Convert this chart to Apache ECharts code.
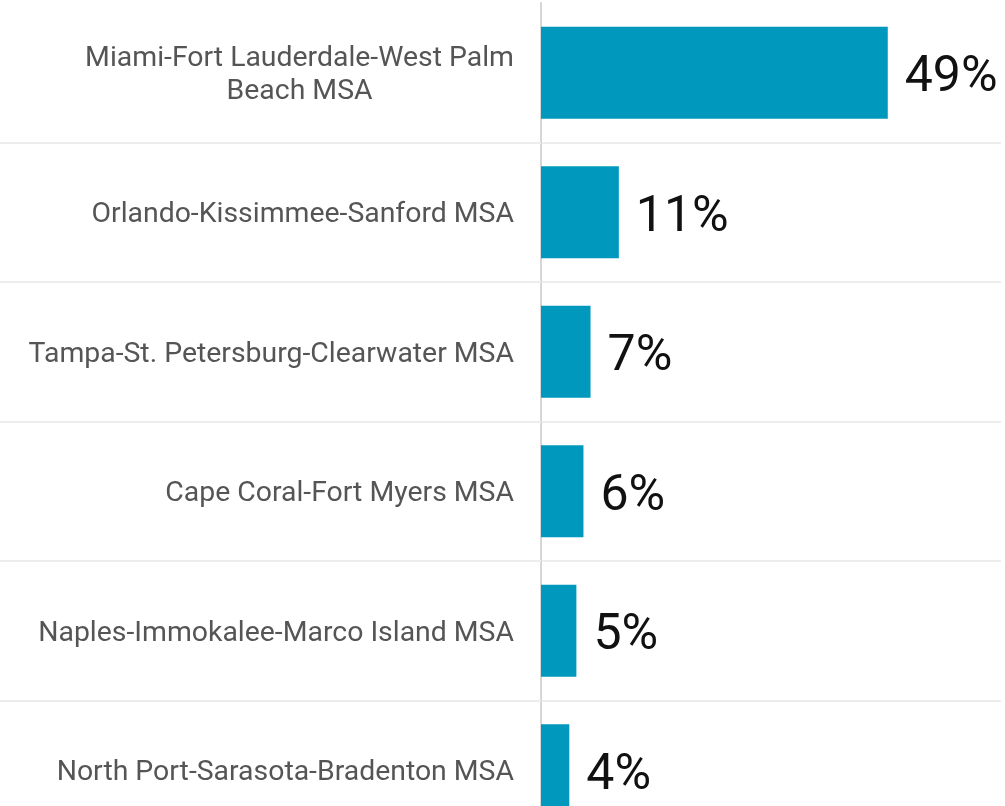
<!DOCTYPE html>
<html>
<head>
<meta charset="utf-8">
<script src="https://cdn.jsdelivr.net/npm/echarts@6/dist/echarts.min.js"></script>
<style>
html,body{margin:0;padding:0;background:#fff;}
#chart{width:1005px;height:806px;}
</style>
</head>
<body>
<div id="chart"></div>
<script>
const categories = [
  'Miami-Fort Lauderdale-West Palm\nBeach MSA',
  'Orlando-Kissimmee-Sanford MSA',
  'Tampa-St. Petersburg-Clearwater MSA',
  'Cape Coral-Fort Myers MSA',
  'Naples-Immokalee-Marco Island MSA',
  'North Port-Sarasota-Bradenton MSA'
];
const shares = [49, 11, 7, 6, 5, 4];

const chart = echarts.init(document.getElementById('chart'), null, {renderer: 'canvas'});
chart.setOption({
  animation: false,
  backgroundColor: '#ffffff',
  grid: {left: 541, top: 3, right: 4, bottom: -34, outerBoundsMode: 'none', containLabel: false},
  xAxis: {
    type: 'value', min: 0, max: 65,
    axisLine: {show: false}, axisTick: {show: false},
    axisLabel: {show: false}, splitLine: {show: false}
  },
  yAxis: {
    type: 'category', inverse: true, data: categories,
    axisLine: {show: true, lineStyle: {color: '#d6d6d6', width: 2}},
    axisTick: {show: true, length: 541, interval: function (i) { return i !== 0; }, lineStyle: {color: '#ededed', width: 2}},
    splitLine: {show: true, interval: function (i) { return i !== 0; }, lineStyle: {color: '#ededed', width: 2}},
    axisLabel: {
      margin: 27,
      fontFamily: 'Roboto',
      fontSize: 28.4,
      color: '#555555',
      formatter: function (v) { return '{c|' + v + '}'; },
      rich: {c: {align: 'center', fontFamily: 'Roboto', fontSize: 28.4, color: '#555555', lineHeight: 33, padding: [6, 0, 0, 0]}}
    }
  },
  series: [{
    type: 'bar',
    data: shares,
    barWidth: 92,
    itemStyle: {color: '#0099BD'},
    label: {
      show: true, position: 'right', distance: 17, offset: [0, 6],
      fontFamily: 'Roboto', fontSize: 50, color: '#111111',
      formatter: '{c}%'
    }
  }]
});
</script>
</body>
</html>
